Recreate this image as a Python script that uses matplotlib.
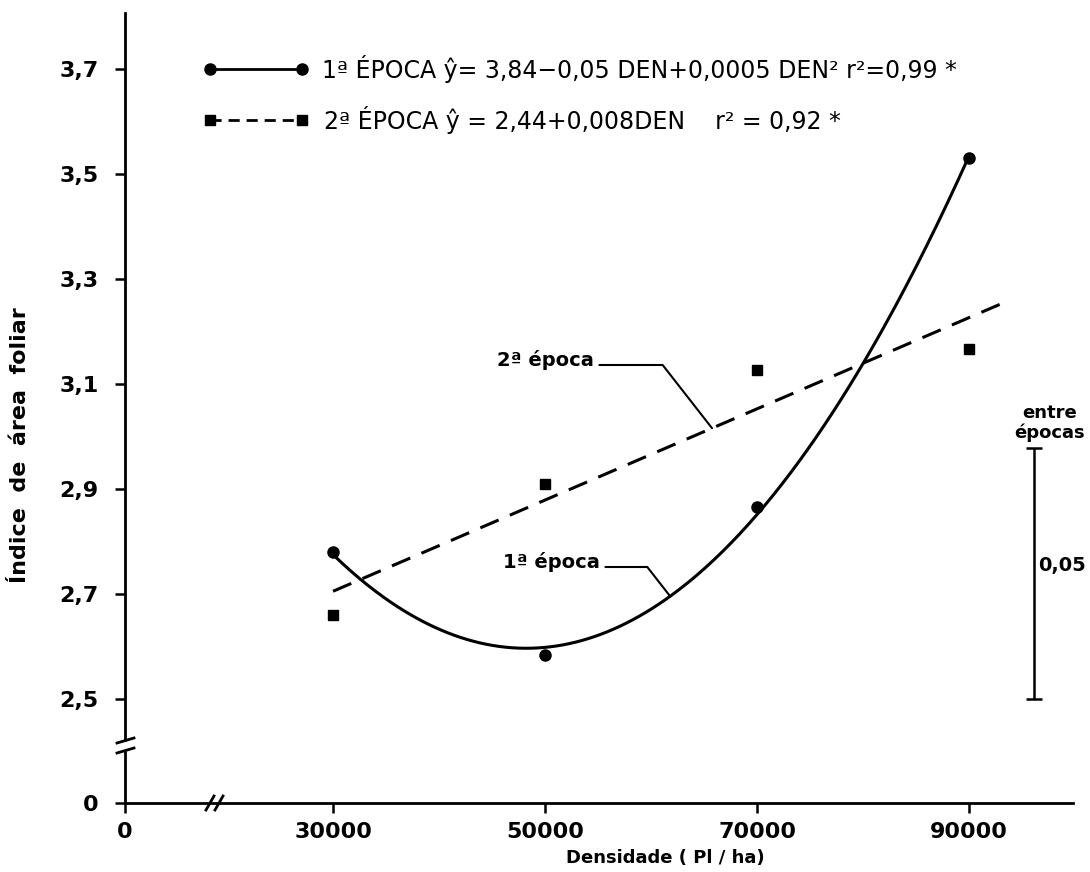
import numpy as np
import matplotlib.pyplot as plt
from matplotlib.ticker import FixedLocator, FixedFormatter, NullLocator

# data
dens = [30000, 50000, 70000, 90000]
iaf_ep1 = [2.78, 2.584, 2.866, 3.53]
iaf_ep2 = [2.66, 2.91, 3.127, 3.167]

x_ticks = [0, 30000, 50000, 70000, 90000]
x_labels = ['0', '30000', '50000', '70000', '90000']
y_ticks = [0, 2.5, 2.7, 2.9, 3.1, 3.3, 3.5, 3.7]
y_labels = ['0', '2,5', '2,7', '2,9', '3,1', '3,3', '3,5', '3,7']

# dms bar "entre épocas"
lsd_x = 96100
lsd_low, lsd_high = 2.5, 2.978

leg1 = '1ª ÉPOCA ŷ= 3,84−0,05 DEN+0,0005 DEN² r²=0,99 *'
leg2 = '2ª ÉPOCA ŷ = 2,44+0,008DEN    r² = 0,92 *'


# broken axes: piecewise linear scales
def x_fwd(v):
    v = np.asarray(v, dtype=float)
    return np.where(v <= 30000, v * 208 / 30000, 208 + (v - 30000) * 0.0106)


def x_inv(p):
    p = np.asarray(p, dtype=float)
    return np.where(p <= 208, p * 30000 / 208, 30000 + (p - 208) / 0.0106)


def y_fwd(v):
    v = np.asarray(v, dtype=float)
    return np.where(v <= 2.5, v * 104 / 2.5, 104 + (v - 2.5) * 525)


def y_inv(p):
    p = np.asarray(p, dtype=float)
    return np.where(p <= 104, p * 2.5 / 104, 2.5 + (p - 104) / 525)


W, H = 1090, 872
fig = plt.figure(figsize=(W / 100, H / 100), dpi=100)
ax = fig.add_axes([125 / W, (H - 803) / H, 948 / W, 790 / H])
ax.set_xscale('function', functions=(x_fwd, x_inv))
ax.set_yscale('function', functions=(y_fwd, y_inv))
ax.set_xlim(0, 99800)
ax.set_ylim(0, 3.807)

# regression curves
k = np.array(dens) / 1000
c1 = np.polyfit(k, iaf_ep1, 2)
c2 = np.polyfit(k, iaf_ep2, 1)
xs1 = np.linspace(30000, 90000, 300)
xs2 = np.linspace(30000, 93600, 2)

ax.plot(xs1, np.polyval(c1, xs1 / 1000), color='black', lw=2.2)
ax.plot(xs2, np.polyval(c2, xs2 / 1000), color='black', lw=2.2,
        linestyle=(0, (6.5, 4)))
ax.plot(dens, iaf_ep1, 'o', color='black', ms=8)
ax.plot(dens, iaf_ep2, 's', color='black', ms=6.5)

# axes look
for s in ['top', 'right', 'left']:
    ax.spines[s].set_visible(False)
ax.spines['bottom'].set_linewidth(2)
ax.xaxis.set_major_locator(FixedLocator(x_ticks))
ax.xaxis.set_major_formatter(FixedFormatter(x_labels))
ax.yaxis.set_major_locator(FixedLocator(y_ticks))
ax.yaxis.set_major_formatter(FixedFormatter(y_labels))
ax.xaxis.set_minor_locator(NullLocator())
ax.yaxis.set_minor_locator(NullLocator())
ax.tick_params(axis='x', direction='out', length=7, width=1.8, pad=7,
               labelsize=16)
ax.tick_params(axis='y', direction='out', length=7, width=1.8, pad=12,
               labelsize=16)
for lab in ax.get_xticklabels() + ax.get_yticklabels():
    lab.set_fontweight('bold')

# left spine with a break
yax = ax.get_yaxis_transform()
ax.plot([0, 0], [1.51, 3.807], color='black', lw=2, transform=yax, clip_on=False)
ax.plot([0, 0], [0, 1.25], color='black', lw=2, transform=yax, clip_on=False)


def px(x, y):
    # figure pixel (from top-left) to figure fraction
    return x / W, 1 - y / H


def px_line(xs, ys, **kw):
    fx = [x / W for x in xs]
    fy = [1 - y / H for y in ys]
    fig.add_artist(plt.Line2D(fx, fy, color='black', lw=kw.pop('lw', 2), **kw))


# break marks
px_line([117, 134], [743, 738])
px_line([117, 134], [753, 748])
px_line([206, 214], [810, 796])
px_line([215, 223], [810, 796])

fig.text(*px(665, 858), 'Densidade ( Pl / ha)', fontsize=13, fontweight='bold',
         ha='center', va='center')
ax.set_ylabel('Índice  de  área  foliar', fontsize=16, fontweight='bold')
ax.yaxis.set_label_coords(-0.1, (803 - 445) / 790)

# legend drawn by hand
lx = [210, 302]
fig.add_artist(plt.Line2D([x / W for x in lx], [1 - 69 / H] * 2, color='black',
                          lw=2, marker='o', ms=8))
fig.add_artist(plt.Line2D([x / W for x in lx], [1 - 120 / H] * 2, color='black',
                          lw=2, marker='s', ms=6.5, linestyle=(0, (4, 2.5))))
fig.text(*px(322, 69), leg1, fontsize=17, va='center', ha='left')
fig.text(*px(324, 120), leg2, fontsize=17, va='center', ha='left')

# curve labels
x_a2 = 65750
x_a1 = 61800
ax.annotate('2ª época', xy=(x_a2, np.polyval(c2, x_a2 / 1000)),
            xytext=(497, H - 360), textcoords='figure pixels',
            fontsize=14, fontweight='bold', va='center', ha='left',
            arrowprops=dict(arrowstyle='-', lw=1.5, color='black', relpos=(1, 0.25),
                            shrinkA=2, shrinkB=0,
                            connectionstyle='angle,angleA=0,angleB=128,rad=0'))
ax.annotate('1ª época', xy=(x_a1, np.polyval(c1, x_a1 / 1000)),
            xytext=(503, H - 562), textcoords='figure pixels',
            fontsize=14, fontweight='bold', va='center', ha='left',
            arrowprops=dict(arrowstyle='-', lw=1.5, color='black', relpos=(1, 0.25),
                            shrinkA=2, shrinkB=0,
                            connectionstyle='angle,angleA=0,angleB=128,rad=0'))

# dms bar
ax.errorbar([lsd_x], [(lsd_low + lsd_high) / 2],
            yerr=[[(lsd_high - lsd_low) / 2], [(lsd_high - lsd_low) / 2]],
            fmt='none', ecolor='black', elinewidth=1.8, capsize=6, capthick=1.8,
            clip_on=False)
fig.text(*px(1038, 565), '0,05', fontsize=14, fontweight='bold', va='center', ha='left')
fig.text(*px(1050, 413), 'entre', fontsize=13, fontweight='bold', va='center', ha='center')
fig.text(*px(1050, 433), 'épocas', fontsize=13, fontweight='bold', va='center', ha='center')

fig.savefig('out.png', dpi=100)
